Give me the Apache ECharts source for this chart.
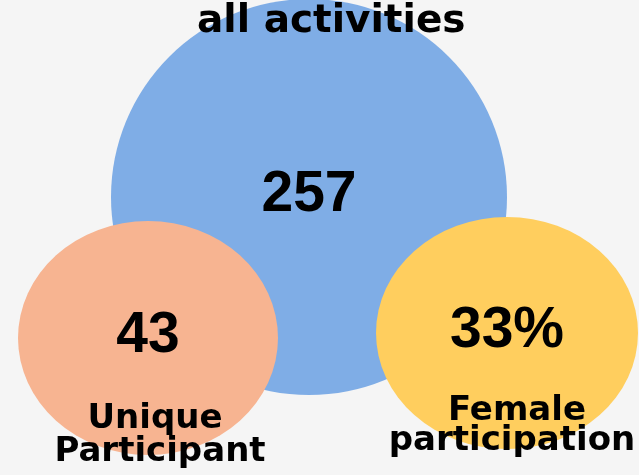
<!DOCTYPE html>
<html>
<head>
<meta charset="utf-8">
<script src="https://cdn.jsdelivr.net/npm/echarts@6/dist/echarts.min.js"></script>
<style>
  html, body { margin: 0; padding: 0; background: #f5f5f5; }
  #chart { width: 639px; height: 475px; }
</style>
</head>
<body>
<div id="chart"></div>
<script>
// the three figures shown in the bubbles
const bubbleNames = ['all activities', 'Unique Participant', 'Female participation']
const bubbleValues = ['257', '43', '33%']
const captionLines = [['Unique', 'Participant'], ['Female', 'participation']]

// layout in pixel space (x, y from top-left), sizes are ellipse width/height
const bubbleCenters = [[309, 197], [148, 338], [507, 333]]
const bubbleSizes = [[396, 396], [260, 234], [262, 232]]
const bubbleColors = ['#7fade6', '#f7b491', '#ffce5e']
const captionPos = [[[155, 419], [160, 452]], [[517, 411], [512, 441]]]

const chart = echarts.init(document.getElementById('chart'))

const bubbleData = bubbleCenters.map((c, i) => ({
  name: bubbleNames[i],
  value: [c[0], c[1]],
  symbolSize: bubbleSizes[i],
  itemStyle: { color: bubbleColors[i] },
  label: { formatter: bubbleValues[i] }
}))

const captionData = []
captionLines.forEach((lines, i) => {
  lines.forEach((txt, j) => {
    captionData.push({ value: captionPos[i][j], label: { formatter: txt } })
  })
})

const option = {
  backgroundColor: '#f5f5f5',
  animation: false,
  title: {
    text: bubbleNames[0],
    left: 197,
    top: 2,
    padding: 0,
    textStyle: {
      fontFamily: 'DejaVu Sans',
      fontWeight: 'bold',
      fontSize: 39,
      color: '#000'
    }
  },
  grid: { left: 0, right: 0, top: 0, bottom: 0 },
  xAxis: { type: 'value', min: 0, max: 639, show: false },
  yAxis: { type: 'value', min: 0, max: 475, inverse: true, show: false },
  series: [
    {
      type: 'scatter',
      symbol: 'circle',
      z: 1,
      data: bubbleData,
      itemStyle: { opacity: 1 },
      label: {
        show: true,
        position: 'inside',
        color: '#000',
        fontFamily: 'Liberation Sans',
        fontWeight: 'bold',
        fontSize: 57,
        offset: [0, -2]
      },
      emphasis: { disabled: true }
    },
    {
      type: 'scatter',
      symbolSize: 0,
      z: 3,
      data: captionData,
      itemStyle: { opacity: 1 },
      label: {
        show: true,
        position: 'inside',
        color: '#000',
        fontFamily: 'DejaVu Sans',
        fontWeight: 'bold',
        fontSize: 34
      },
      emphasis: { disabled: true }
    }
  ]
}
chart.setOption(option)
</script>
</body>
</html>
